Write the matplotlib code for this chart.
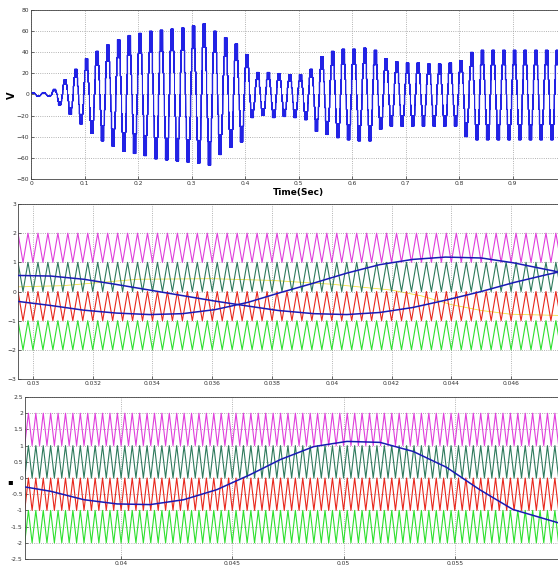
import numpy as np
import matplotlib.pyplot as plt

# ---------------- data ----------------
# top panel: peak (positive) and trough (negative) of every 50 Hz cycle
f0 = 50
t_first_peak = 0.0036
pos_peaks = [2, 2, 5, 14, 24, 34, 41, 47, 52, 56, 58, 60, 61, 62, 63, 65, 67, 60, 54, 48,
             38, 21, 21, 20, 19, 19, 24, 36, 41, 43, 43, 44, 42, 34, 31, 30, 30, 29, 29, 30,
             32, 40, 42, 42, 42, 42, 42, 42, 42, 42]
neg_peaks = [2, 2, 10, 19, 28, 37, 44, 49, 54, 56, 58, 61, 62, 63, 64, 65, 67, 57, 50, 45,
             22, 20, 22, 21, 22, 24, 35, 38, 41, 43, 44, 44, 33, 30, 30, 30, 30, 30, 30, 30,
             40, 43, 43, 43, 43, 43, 43, 43, 43, 43]
top_xticks = [0, 0.1, 0.2, 0.3, 0.4, 0.5, 0.6, 0.7, 0.8, 0.9]
top_yticks = [-80, -60, -40, -20, 0, 20, 40, 60, 80]

# carriers (level shifted, 3 kHz) : lower level of each band and its colour
fc = 3000
carrier_lo = [1, 0, -1, -2]
carrier_col = ['#e040dc', '#2e7a5c', '#e8281e', '#2ee02e']

# middle panel: modulating signals
modA_t = [0.0295, 0.0306, 0.0317, 0.0328, 0.0339, 0.035, 0.0361, 0.0372, 0.0382, 0.0394,
          0.0405, 0.0416, 0.0427, 0.0438, 0.045, 0.0461, 0.0472, 0.0476]
modA_v = [0.55, 0.53, 0.42, 0.24, 0.05, -0.14, -0.33, -0.50, -0.65, -0.76,
          -0.79, -0.72, -0.55, -0.30, 0.0, 0.31, 0.58, 0.67]
modB_t = modA_t
modB_v = [-0.34, -0.48, -0.64, -0.74, -0.79, -0.76, -0.62, -0.37, -0.06, 0.29,
          0.63, 0.92, 1.10, 1.18, 1.15, 0.98, 0.75, 0.67]
yel_t = [0.0295, 0.031, 0.0335, 0.036, 0.038, 0.040, 0.042, 0.043, 0.044, 0.045, 0.046, 0.0476]
yel_v = [0.16, 0.20, 0.42, 0.44, 0.38, 0.25, 0.05, -0.15, -0.45, -0.65, -0.78, -0.82]
mid_xticks = [0.03, 0.032, 0.034, 0.036, 0.038, 0.04, 0.042, 0.044, 0.046]
mid_xlabels = ['0.03', '0.032', '0.034', '0.036', '0.038', '0.04', '0.042', '0.044', '0.046']

# bottom panel
modC_t = [0.03572, 0.03684, 0.03833, 0.03982, 0.04131, 0.04281, 0.0443, 0.04579, 0.04716,
          0.04866, 0.05015, 0.05164, 0.05313, 0.05463, 0.05612, 0.05761, 0.05964]
modC_v = [-0.28, -0.41, -0.67, -0.80, -0.82, -0.67, -0.36, 0.10, 0.57,
          0.97, 1.13, 1.10, 0.82, 0.33, -0.36, -0.97, -1.38]
bot_xticks = [0.04, 0.045, 0.05, 0.055]
bot_xlabels = ['0.04', '0.045', '0.05', '0.055']
bot_yticks = [-2.5, -2, -1.5, -1, -0.5, 0, 0.5, 1, 1.5, 2, 2.5]


def carrier(t0, t1, lo, f):
    # triangle between lo and lo+1, vertices every half period
    n0 = int(np.floor(t0 * 2 * f)) - 1
    n1 = int(np.ceil(t1 * 2 * f)) + 1
    n = np.arange(n0, n1 + 1)
    return n / (2 * f), lo + (n % 2)


def style(ax):
    ax.grid(True, linestyle=':', color='#9a9a9a', linewidth=0.6)
    ax.tick_params(direction='in', length=2, width=0.5, labelsize=4.3,
                   colors='#333333', pad=1.5)
    for s in ax.spines.values():
        s.set_linewidth(0.6)
        s.set_color('#444444')


fig = plt.figure(figsize=(5.58, 5.65), dpi=100)

# ---------------- top panel ----------------
ax1 = fig.add_axes([0.0556, 0.6832, 0.9444, 0.2991])
t = np.linspace(0, 0.985, 300000)
ref = np.cos(2 * np.pi * f0 * (t - t_first_peak))
tri = np.abs(((t * 2000) % 1.0) * 2 - 1)
nb = 3  # bands per polarity (multilevel inverter)
lvl = np.zeros_like(t)
for j in range(-nb, nb):
    lvl += (ref > (j + tri) / nb) * (1.0 / nb)
lvl -= 1
kp = np.clip(np.round((t - t_first_peak) / 0.02).astype(int), 0, len(pos_peaks) - 1)
kn = np.clip(np.floor((t - t_first_peak) / 0.02).astype(int), 0, len(neg_peaks) - 1)
pos_env = np.array(pos_peaks)[kp]
neg_env = np.array(neg_peaks)[kn]
v = np.where(lvl >= 0, lvl * pos_env, lvl * neg_env)
ax1.plot(t, v, color='#2222e4', linewidth=0.6)
ax1.set_xlim(0, 0.985)
ax1.set_ylim(-80, 80)
ax1.set_xticks(top_xticks)
ax1.set_xticklabels(['0', '0.1', '0.2', '0.3', '0.4', '0.5', '0.6', '0.7', '0.8', '0.9'])
ax1.set_yticks(top_yticks)
style(ax1)
fig.text(0.021, 0.832, 'V', fontsize=7, fontweight='bold', rotation=90,
         ha='center', va='center')
fig.text(0.534, 0.660, 'Time(Sec)', fontsize=6.5, fontweight='bold',
         ha='center', va='center')

# ---------------- middle panel ----------------
ax2 = fig.add_axes([0.0323, 0.3292, 0.9677, 0.3097])
x0, x1 = 0.0295, 0.04757
ax2.plot(yel_t, yel_v, color='#f0e040', linewidth=0.6, zorder=1)
for lo, c in zip(carrier_lo, carrier_col):
    ct, cv = carrier(x0, x1, lo, fc)
    ax2.plot(ct, cv, color=c, linewidth=0.8, zorder=2)
ax2.plot(modA_t, modA_v, color='#1a1ab4', linewidth=1.1, zorder=3)
ax2.plot(modB_t, modB_v, color='#1a1ab4', linewidth=1.1, zorder=3)
ax2.set_xlim(x0, x1)
ax2.set_ylim(-3, 3)
ax2.set_xticks(mid_xticks)
ax2.set_xticklabels(mid_xlabels)
ax2.set_yticks([-3, -2, -1, 0, 1, 2, 3])
style(ax2)

# ---------------- bottom panel ----------------
ax3 = fig.add_axes([0.0448, 0.0106, 0.9552, 0.2867])
x0, x1 = 0.03568, 0.05964
for lo, c in zip(carrier_lo, carrier_col):
    ct, cv = carrier(x0, x1, lo, fc)
    ax3.plot(ct, cv, color=c, linewidth=0.8, zorder=2)
ax3.plot(modC_t, modC_v, color='#1a1ab4', linewidth=1.1, zorder=3)
ax3.set_xlim(x0, x1)
ax3.set_ylim(-2.5, 2.5)
ax3.set_xticks(bot_xticks)
ax3.set_xticklabels(bot_xlabels)
ax3.set_yticks(bot_yticks)
ax3.set_yticklabels(['-2.5', '-2', '-1.5', '-1', '-0.5', '0', '0.5', '1', '1.5', '2', '2.5'])
style(ax3)
fig.text(0.018, 0.147, '\u25aa', fontsize=6, ha='center', va='center')

fig.savefig('out.png', dpi=100)
